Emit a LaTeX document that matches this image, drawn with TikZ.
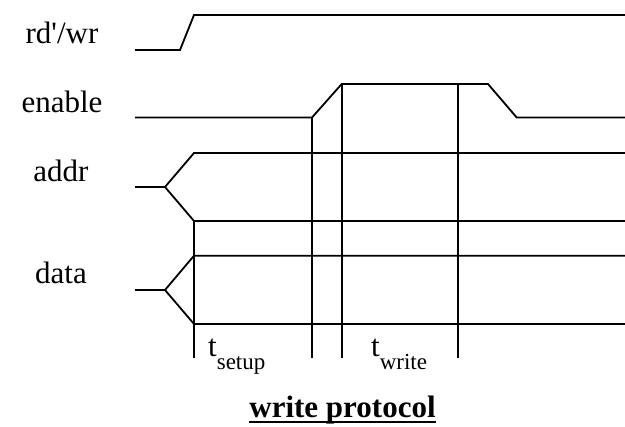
\documentclass[tikz,border=0pt]{standalone}
\usepackage{fontspec}
\setmainfont{Liberation Serif}
\newcommand{\thickul}[1]{{\setbox0\hbox{#1}\rlap{\raisebox{-5pt}{\rule{\wd0}{1.8pt}}}\box0}}
\begin{document}
\begin{tikzpicture}[x=1pt,y=-1pt,
  wave/.style={line width=1.8pt,line join=miter},
  lbl/.style={anchor=base,inner sep=0pt,font=\fontsize{31}{37}\selectfont},
  tlbl/.style={anchor=base west,inner sep=0pt,font=\fontsize{31}{37}\selectfont},
  ttl/.style={anchor=base,inner sep=0pt,font=\fontsize{31}{37}\selectfont\bfseries}]
\useasboundingbox (0,0) rectangle (625,427);
% labels
\node[lbl] (lrw) at (62,44) {rd\textquotesingle/wr};
\node[lbl] (len) at (62,113) {enable};
\node[lbl] (lad) at (61,182) {addr};
\node[lbl] (lda) at (61,284) {data};
% coordinates
\coordinate (rw0) at (135,50);
\coordinate (rw1) at (180,50);
\coordinate (rw2) at (194,15);
\coordinate (rw3) at (625,15);
\coordinate (en0) at (135,117.5);
\coordinate (en1) at (312,117.5);
\coordinate (en2) at (341.7,84);
\coordinate (en3) at (488,84);
\coordinate (en4) at (516.7,117.5);
\coordinate (en5) at (625,117.5);
\coordinate (ad0) at (135,187);
\coordinate (ad1) at (165,187);
\coordinate (adh) at (194,153);
\coordinate (adhe) at (625,153);
\coordinate (adl) at (194,221);
\coordinate (adle) at (625,221);
\coordinate (da0) at (135,290);
\coordinate (da1) at (165,290);
\coordinate (dah) at (194,255.7);
\coordinate (dahe) at (625,255.7);
\coordinate (dal) at (194,324);
\coordinate (dale) at (625,324);
\coordinate (v1b) at (194,358);
\coordinate (v2b) at (312,358);
\coordinate (v3t) at (341.7,84);
\coordinate (v3b) at (341.7,358);
\coordinate (v4t) at (458.3,84);
\coordinate (v4b) at (458.3,358);
% waveforms
\draw[wave] (rw0) -- (rw1) -- (rw2) -- (rw3);
\draw[wave] (en0) -- (en1) -- (en2) -- (en3) -- (en4) -- (en5);
\draw[wave] (ad0) -- (ad1) -- (adh) -- (adhe);
\draw[wave] (ad1) -- (adl) -- (adle);
\draw[wave] (da0) -- (da1) -- (dah) -- (dahe);
\draw[wave] (da1) -- (dal) -- (dale);
% timing markers
\draw[wave] (adl) -- (v1b);
\draw[wave] (en1) -- (v2b);
\draw[wave] (v3t) -- (v3b);
\draw[wave] (v4t) -- (v4b);
% time labels
\node[tlbl] (tsu) at (208,357) {t\raisebox{-13pt}{\fontsize{23}{27}\selectfont setup}};
\node[tlbl] (twr) at (371,357) {t\raisebox{-13pt}{\fontsize{23}{27}\selectfont write}};
% title
\node[ttl] (title) at (342.5,418) {\thickul{write protocol}};
\end{tikzpicture}
\end{document}
